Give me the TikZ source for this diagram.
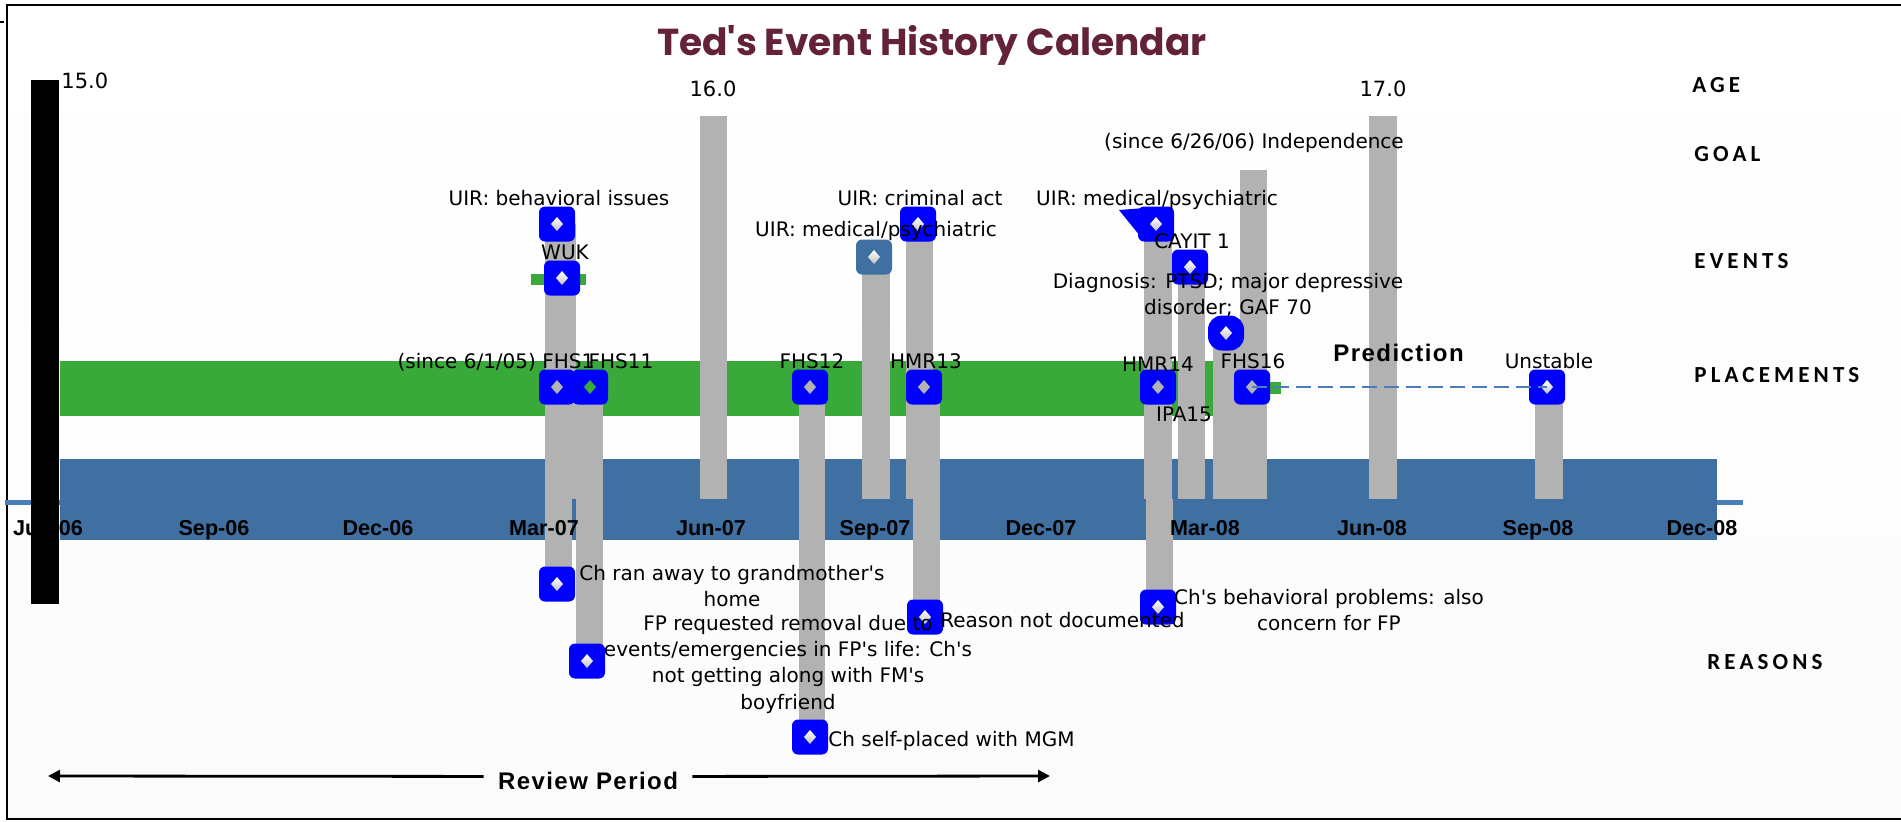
\documentclass[tikz,border=0pt]{standalone}
\usepackage{fontspec}
\setmainfont{DejaVu Sans}[Ligatures=TeXOff]
\newfontfamily\tickfont{Liberation Sans}
\newfontfamily\boldlbl[LetterSpace=6]{Liberation Sans}
\newfontfamily\rowfont[LetterSpace=18]{Carlito}
\newfontfamily\titlefont{Poppins}[Ligatures=TeXOff]
\usetikzlibrary{arrows.meta}
\definecolor{barg}{HTML}{B2B2B2}
\definecolor{plgreen}{HTML}{39AA3A}
\definecolor{axblue}{HTML}{3F70A1}
\definecolor{lineblue}{HTML}{4A7EBB}
\definecolor{mkblue}{HTML}{0000FF}
\definecolor{titlecol}{HTML}{632239}
\newcommand{\evmark}[5]{%
  \node[evbox,#4] (#1) at (#2,#3) {};
  \path[#5] (#2,#3-7) -- (#2+6,#3) -- (#2,#3+7) -- (#2-6,#3) -- cycle;}
\begin{document}
\begin{tikzpicture}[x=0.5pt,y=-0.5pt,
  lbl/.style={font=\fontsize{10}{13.2}\selectfont, anchor=base, inner sep=0pt},
  mlbl/.style={font=\fontsize{10}{13.2}\selectfont, anchor=north, inner sep=0pt, align=center},
  tick/.style={font=\tickfont\bfseries\fontsize{10.8}{12}\selectfont, anchor=base, inner sep=0pt},
  rowlbl/.style={font=\rowfont\bfseries\fontsize{11.5}{13}\selectfont, anchor=base west, inner sep=0pt},
  agelbl/.style={font=\fontsize{10.5}{12}\selectfont, anchor=base, inner sep=0pt},
  bigbold/.style={font=\boldlbl\bfseries\fontsize{12}{14}\selectfont, inner sep=0pt},
  evbox/.style={fill=mkblue, rounded corners=3pt, minimum width=18pt, minimum height=17.5pt, inner sep=0pt},
  grbar/.style={fill=barg},
  wdia/.style={top color=white, bottom color=barg!80},
  gdia/.style={fill=barg},
]
\useasboundingbox (0,0) rectangle (1901,821);
\clip (0,0) rectangle (1901,821);
\fill[white] (0,0) rectangle (1901,821);
\shade[top color=white, middle color=black!6, bottom color=black!1.5] (7,5) rectangle (1911,819);
\draw[line width=1pt] (1911,5) -- (7,5) -- (7,819) -- (1911,819);
\fill (0,21) rectangle (4,23);

% title
\node[font=\titlefont\bfseries\fontsize{18.75}{21}\selectfont, text=titlecol, anchor=base, inner sep=0pt] (title) at (932,55) {Ted's Event History Calendar};

% bands
\fill[plgreen] (60,361) rectangle (1213,416);
\fill[lineblue] (5,499.5) rectangle (1743,504.5);
\fill[axblue] (60,459) rectangle (1717,540);

% bars above axis
\fill[grbar] (545,224) rectangle (576,499);
\fill[grbar] (576,387) rectangle (603,499);
\fill[grbar] (700,116) rectangle (727,499);
\fill[grbar] (799,387) rectangle (825,499);
\fill[grbar] (862,257) rectangle (890,499);
\fill[grbar] (906,224) rectangle (933,499);
\fill[grbar] (913,387) rectangle (940,499);
\fill[grbar] (1144,224) rectangle (1172,499);
\fill[grbar] (1178,267) rectangle (1205,499);
\fill[grbar] (1213,333) rectangle (1240,499);
\fill[grbar] (1240,170) rectangle (1267,499);
\fill[grbar] (1369,116) rectangle (1397,499);
\fill[grbar] (1535,387) rectangle (1563,499);
% bars below axis
\fill[grbar] (545,499) rectangle (572,584);
\fill[grbar] (576,499) rectangle (603,661);
\fill[grbar] (799,499) rectangle (825,737);
\fill[grbar] (913,499) rectangle (940,617);
\fill[grbar] (1146,499) rectangle (1173,607);

% small green pieces
\fill[plgreen] (531,274) rectangle (586,285);
\fill[plgreen] (1262,382) rectangle (1281,394);

% tick labels
\node[tick] (t1) at (48,535) {Jun-06};
\node[tick] (t2) at (214,535) {Sep-06};
\node[tick] (t3) at (378,535) {Dec-06};
\node[tick] (t4) at (544,535) {Mar-07};
\node[tick] (t5) at (711,535) {Jun-07};
\node[tick] (t6) at (875,535) {Sep-07};
\node[tick] (t7) at (1041,535) {Dec-07};
\node[tick] (t8) at (1205,535) {Mar-08};
\node[tick] (t9) at (1372,535) {Jun-08};
\node[tick] (t10) at (1538,535) {Sep-08};
\node[tick] (t11) at (1702,535) {Dec-08};

% markers: events
\evmark{uir1}{557}{224}{}{wdia}
\evmark{wuk}{562}{278}{}{wdia}
\fill[mkblue] (1119,210) -- (1145,208) -- (1140,236) -- cycle;
\evmark{uirmedb}{1156}{224}{}{wdia}
\evmark{uirmeda}{874}{257}{fill=axblue}{wdia}
\evmark{uircrim}{918}{224}{}{wdia}
\evmark{cayit}{1190}{267}{}{wdia}
\evmark{diag}{1226}{333}{rounded corners=7pt}{wdia}
% markers: placements
\evmark{fhs1}{557}{387}{}{gdia}
\evmark{fhs11}{590}{387}{}{fill=plgreen}
\evmark{fhs12}{810}{387}{}{gdia}
\evmark{hmr13}{924}{387}{}{gdia}
\evmark{hmr14}{1158}{387}{}{gdia}
\evmark{fhs16}{1252}{387}{}{gdia}
\evmark{unst}{1547}{387}{}{wdia}
\draw[lineblue, line width=1pt, dash pattern=on 7.5pt off 3.5pt] (fhs16.center) -- (unst.center);
% markers: reasons
\evmark{rsa}{557}{584}{}{wdia}
\evmark{rsb}{587}{661}{}{wdia}
\evmark{rsc}{810}{737}{}{wdia}
\evmark{rsd}{925}{617}{}{wdia}
\evmark{rse}{1158}{607}{}{wdia}

% age
\node[agelbl, anchor=base west] (a15) at (61,88) {15.0};
\node[agelbl] (a16) at (713,96) {16.0};
\node[agelbl] (a17) at (1383,96) {17.0};

% goal
\node[lbl] (goal) at (1254,148) {(since 6/26/06) Independence};

% event labels
\node[lbl] (luir1) at (559,205) {UIR: behavioral issues};
\node[lbl] (lwuk) at (565,259) {WUK};
\node[lbl] (luircrim) at (920,205) {UIR: criminal act};
\node[lbl] (luirmeda) at (876,236) {UIR: medical/psychiatric};
\node[lbl] (luirmedb) at (1157,205) {UIR: medical/psychiatric};
\node[lbl] (lcayit) at (1192,248) {CAYIT 1};
\node[mlbl] (ldiag) at (1228,272.5) {Diagnosis: PTSD; major depressive\\disorder; GAF 70};

% placement labels
\node[lbl] (lfhs1) at (496,368) {(since 6/1/05) FHS1};
\node[lbl] (lfhs11) at (621,368) {FHS11};
\node[lbl] (lfhs12) at (812,368) {FHS12};
\node[lbl] (lhmr13) at (926,368) {HMR13};
\node[lbl] (lhmr14) at (1158,371) {HMR14};
\node[lbl] (lipa15) at (1184,421) {IPA15};
\node[lbl] (lfhs16) at (1253,368) {FHS16};
\node[lbl] (lunst) at (1549,368) {Unstable};
\node[bigbold, anchor=base west] (pred) at (1333,361) {Prediction};

% reason labels
\node[mlbl] (lrsa) at (732,564.5) {Ch ran away to grandmother's\\home};
\node[mlbl] (lrsb) at (788,614.5) {FP requested removal due to\\events/emergencies in FP's life: Ch's\\not getting along with FM's\\boyfriend};
\node[lbl, anchor=base west] (lrsc) at (828,746) {Ch self-placed with MGM};
\node[lbl, anchor=base west] (lrsd) at (940,627) {Reason not documented};
\node[mlbl] (lrse) at (1329,588.5) {Ch's behavioral problems: also\\concern for FP};

% row labels
\node[rowlbl] (rage) at (1692,92) {AGE};
\node[rowlbl] (rgoal) at (1694,161) {GOAL};
\node[rowlbl] (revents) at (1694,268) {EVENTS};
\node[rowlbl] (rplace) at (1694,382) {PLACEMENTS};
\node[rowlbl] (rreason) at (1707,669) {REASONS};

% current-age black bar
\fill[black] (31,80) rectangle (59,604);

% review period
\node[bigbold, anchor=base] (rv) at (588,789) {Review Period};
\coordinate (rvL) at (48,776);
\coordinate (rvR) at (1050,776);
\draw[line width=1.4pt, -{Triangle[length=6pt,width=6pt]}] ([xshift=-7pt,yshift=2pt]rv.west) -- (rvL);
\draw[line width=1.4pt, -{Triangle[length=6pt,width=6pt]}] ([xshift=7pt,yshift=2pt]rv.east) -- (rvR);
\end{tikzpicture}
\end{document}
